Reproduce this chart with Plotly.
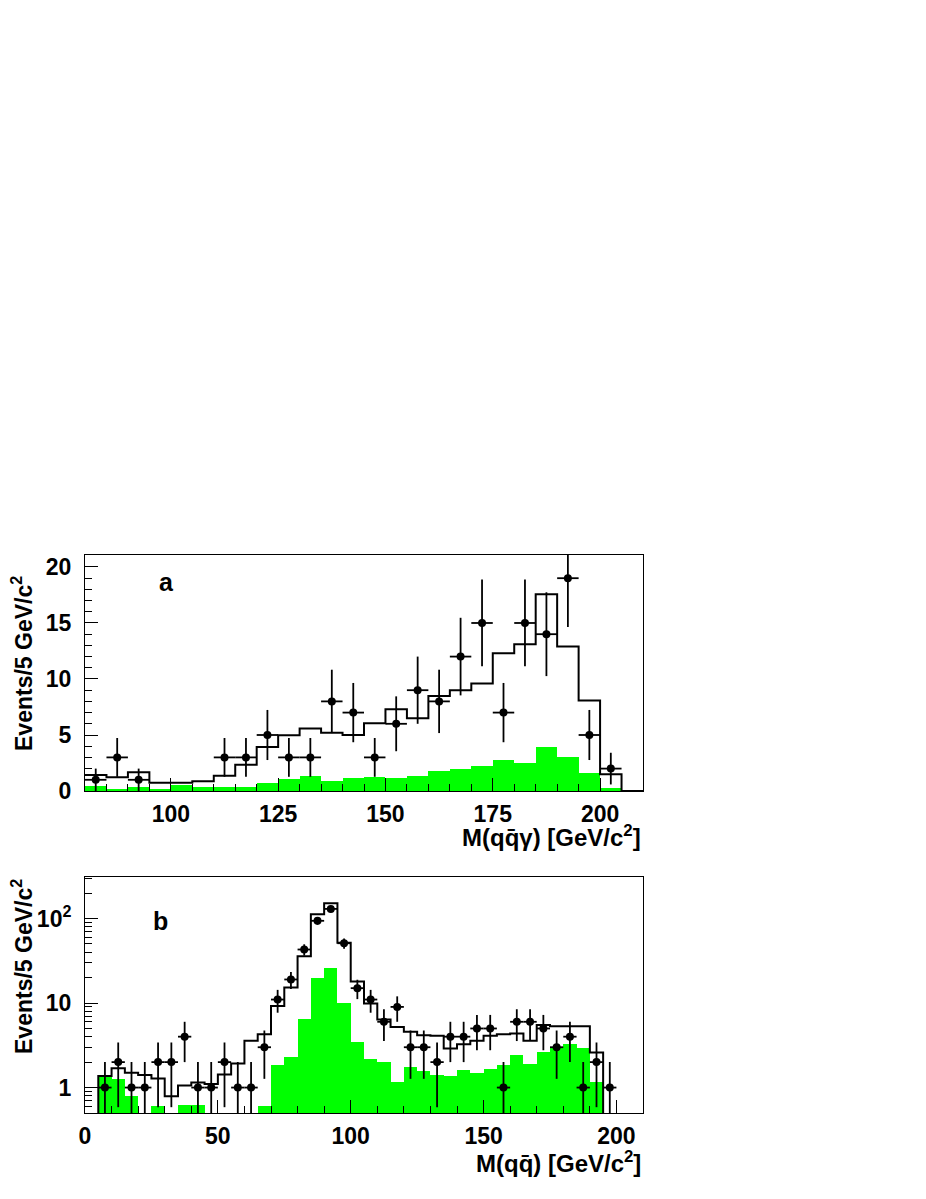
import plotly.graph_objects as go
import math

# ---------------- data: panel a, M(q qbar gamma), 5 GeV bins from 80 to 210
a_bin_lo = list(range(80, 210, 5))
a_data = [1, 3, 1, 0, 0, 0, 3, 3, 5, 3, 3, 8, 7, 3, 6, 9, 8, 12, 15, 7, 15, 14, 19, 5, 2, 0]
a_mc = [1.43, 1.22, 1.67, 0.74, 0.74, 0.86, 1.37, 2.35, 3.93, 4.97, 5.57, 5.2, 5.0, 6.04,
        7.29, 6.49, 8.48, 9.0, 9.6, 12.3, 13.1, 17.56, 12.9, 8.07, 1.49, 0]
a_bkg = [0.45, 0.15, 0.33, 0.15, 0.5, 0.33, 0.39, 0.39, 0.74, 1.1, 1.37, 0.89, 1.19, 1.22,
         1.16, 1.34, 1.79, 1.96, 2.26, 2.77, 2.53, 3.93, 3.0, 1.58, 0.24, 0]
a_xticks = [100, 125, 150, 175, 200]
a_yticks = [0, 5, 10, 15, 20]

# ---------------- data: panel b, M(q qbar), 5 GeV bins from 0 to 210
b_bin_lo = list(range(0, 210, 5))
b_data = [0, 1, 2, 1, 1, 2, 2, 4, 1, 1, 2, 1, 1, 3, 11, 19, 43, 94, 130, 51, 15, 11, 6, 9,
          3, 3, 2, 4, 4, 5, 5, 1, 6, 6, 5, 3, 4, 1, 2, 1, 0, 0]
b_mc = [0, 1.37, 1.69, 1.50, 1.41, 1.28, 0.79, 1.06, 1.15, 1.10, 1.43, 1.92, 3.57, 4.28,
        9.2, 15.3, 35.9, 112, 152, 51.6, 18.0, 9.85, 6.4, 5.2, 4.56, 4.17, 4.09, 2.9, 3.26,
        3.57, 4.09, 4.28, 4.36, 3.57, 5.5, 5.3, 5.3, 5.3, 2.6, 0, 0, 0]
b_bkg = [0, 1.37, 1.25, 0.79, 0, 0.6, 0, 0.62, 0.63, 0, 0, 0, 0, 0.6, 1.84, 2.28, 6.4, 19.9,
         26.2, 9.9, 3.5, 2.2, 1.98, 1.15, 1.75, 1.57, 1.4, 1.37, 1.6, 1.49, 1.68, 1.84, 2.46,
         1.92, 2.64, 2.9, 3.26, 2.9, 1.15, 0, 0, 0]
b_xticks = [0, 50, 100, 150, 200]
b_yticks = [1, 10, 100]
b_yticktext = ["1", "10", "10<sup>2</sup>"]

BW = 5.0
GREEN = "#00ff00"
FONT = "Liberation Sans, Arial, Helvetica, sans-serif"

def centers(lo):
    return [v + BW / 2 for v in lo]

def step(lo, vals, floor=None):
    xs = lo + [lo[-1] + BW]
    ys = list(vals) + [vals[-1]]
    if floor is not None:
        ys = [y if y > 0 else floor for y in ys]
    return xs, ys

fig = go.Figure()

# ---- panel a
fig.add_trace(go.Bar(x=centers(a_bin_lo), y=a_bkg, width=BW,
                     marker=dict(color=GREEN, line=dict(width=0)),
                     xaxis="x", yaxis="y", showlegend=False))
sx, sy = step(a_bin_lo, a_mc)
fig.add_trace(go.Scatter(x=sx, y=sy, mode="lines",
                         line=dict(shape="hv", color="black", width=2),
                         xaxis="x", yaxis="y", showlegend=False))
ax_pts = [c for c, n in zip(centers(a_bin_lo), a_data) if n > 0]
ay_pts = [n for n in a_data if n > 0]
fig.add_trace(go.Scatter(x=ax_pts, y=ay_pts, mode="markers",
                         marker=dict(color="black", size=8),
                         error_y=dict(type="data", array=[math.sqrt(n) for n in ay_pts],
                                      color="black", thickness=1.8, width=0),
                         error_x=dict(type="constant", value=BW / 2,
                                      color="black", thickness=1.8, width=0),
                         xaxis="x", yaxis="y", showlegend=False))

# ---- panel b
bx_bar = [c for c, v in zip(centers(b_bin_lo), b_bkg) if v > 0]
by_bar = [v for v in b_bkg if v > 0]
fig.add_trace(go.Bar(x=bx_bar, y=by_bar, width=BW,
                     marker=dict(color=GREEN, line=dict(width=0)),
                     xaxis="x2", yaxis="y2", showlegend=False))
sx, sy = step(b_bin_lo, b_mc, floor=0.01)
fig.add_trace(go.Scatter(x=sx, y=sy, mode="lines",
                         line=dict(shape="hv", color="black", width=2),
                         xaxis="x2", yaxis="y2", showlegend=False))
bx_pts = [c for c, n in zip(centers(b_bin_lo), b_data) if n > 0]
by_pts = [n for n in b_data if n > 0]
fig.add_trace(go.Scatter(x=bx_pts, y=by_pts, mode="markers",
                         marker=dict(color="black", size=8),
                         error_y=dict(type="data", array=[math.sqrt(n) for n in by_pts],
                                      color="black", thickness=1.8, width=0),
                         error_x=dict(type="constant", value=BW / 2,
                                      color="black", thickness=1.8, width=0),
                         xaxis="x2", yaxis="y2", showlegend=False))

# page pixels -> figure coordinates (page body has an 8 px margin)
OFF = 8.0
H = 1199.0
PL, PW = 85.0, 558.0
def py(pix):
    return (H - (pix - OFF)) / H
def px(pix):
    return (pix - PL) / PW

axis_common = dict(showline=True, mirror=True, linecolor="black", linewidth=1,
                   ticks="inside", tickcolor="black", tickwidth=1, ticklen=13,
                   showgrid=False, zeroline=False, automargin=False,
                   tickfont=dict(family=FONT, size=23, color="black", weight="bold"))

log_minor = [k * 10 ** d for d in (-1, 0, 1, 2) for k in range(2, 10)]

fig.update_layout(
    template="none",
    width=926, height=1199,
    margin=dict(l=PL - OFF, r=926 - (PL - OFF) - PW, t=0, b=0, autoexpand=False),
    paper_bgcolor="white", plot_bgcolor="white",
    bargap=0, barmode="overlay",
    font=dict(family=FONT, size=23, color="black", weight="bold"),
    xaxis=dict(axis_common, domain=[0, 1], range=[80, 210], anchor="y",
               tickmode="array", tickvals=a_xticks, ticklabelstandoff=2,
               minor=dict(ticks="inside", ticklen=7, tickcolor="black", dtick=5, tick0=0)),
    yaxis=dict(axis_common, domain=[py(791), py(555)], range=[0, 21.07], anchor="x",
               tickmode="array", tickvals=a_yticks, ticklabelstandoff=8,
               minor=dict(ticks="inside", ticklen=7, tickcolor="black", dtick=1, tick0=0)),
    xaxis2=dict(axis_common, domain=[0, 1], range=[0, 210], anchor="y2",
                tickmode="array", tickvals=b_xticks, ticklabelstandoff=2,
                minor=dict(ticks="inside", ticklen=7, tickcolor="black", dtick=10, tick0=0)),
    yaxis2=dict(axis_common, domain=[py(1113), py(877)], type="log",
                range=[math.log10(0.5), math.log10(310)], anchor="x2",
                tickmode="array", tickvals=b_yticks, ticktext=b_yticktext,
                ticklabelstandoff=8,
                minor=dict(ticks="inside", ticklen=7, tickcolor="black",
                           tickmode="array", tickvals=log_minor)),
)

title_font = dict(family=FONT, size=24, color="black", weight="bold")
ytitle_font = dict(family=FONT, size=23, color="black", weight="bold")
lab_font = dict(family=FONT, size=25, color="black", weight="bold")
ann = [
    dict(text="a", x=px(166), y=py(582), font=lab_font),
    dict(text="b", x=px(160), y=py(921), font=lab_font),
    dict(text="Events/5 GeV/c<sup>2</sup>", x=px(22), y=py(664), textangle=-90,
         font=ytitle_font),
    dict(text="Events/5 GeV/c<sup>2</sup>", x=px(22), y=py(967), textangle=-90,
         font=ytitle_font),
    dict(text="M(qq\u0304\u03b3) [GeV/c<sup>2</sup>]", x=1.0, y=py(836), xanchor="right",
         font=title_font),
    dict(text="M(qq\u0304) [GeV/c<sup>2</sup>]", x=1.0, y=py(1162), xanchor="right",
         font=title_font),
]
for a in ann:
    a.setdefault("xanchor", "center")
    a.update(xref="paper", yref="paper", yanchor="middle", showarrow=False)
fig.update_layout(annotations=ann)

fig.write_html("out.html")
